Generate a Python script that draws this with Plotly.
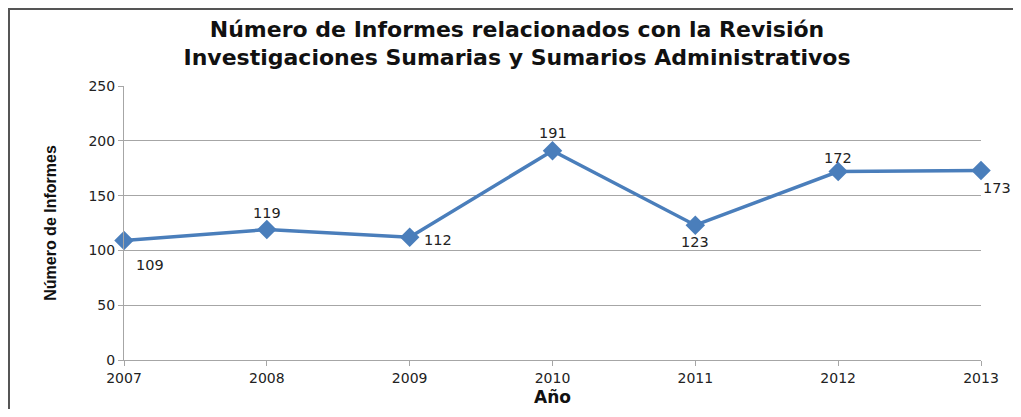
import plotly.graph_objects as go

# data
years = ["2007", "2008", "2009", "2010", "2011", "2012", "2013"]
informes = [109, 119, 112, 191, 123, 172, 173]
y_ticks = [0, 50, 100, 150, 200, 250]

# pixel offsets of each value label from its point (style, not data)
label_shift = [(26, -24), (0, 17), (28, -3), (0, 18), (0, -17), (0, 13), (16, -18)]

LINE_BLUE = "#4a7ebb"
GRID = "#a6a6a6"
FONT = "DejaVu Sans, Liberation Sans, Arial"

fig = go.Figure(
    go.Scatter(
        x=years, y=informes,
        mode="lines+markers",
        line=dict(color=LINE_BLUE, width=3.5),
        marker=dict(symbol="diamond", size=15, color=LINE_BLUE),
        cliponaxis=False,
        hoverinfo="skip",
    )
)

# value labels; numeric-looking category names are addressed by their index
for i, (val, (dx, dy)) in enumerate(zip(informes, label_shift)):
    fig.add_annotation(
        x=i, y=val, text=str(val), showarrow=False,
        xshift=dx, yshift=dy,
        font=dict(family=FONT, size=14.5, color="#222"),
    )

# the page body adds 8px margins; the figure is sized so the plot area lands
# where the reference has it
fig.update_layout(
    width=1013, height=401,
    margin=dict(l=116, r=40, t=78, b=49),
    paper_bgcolor="white", plot_bgcolor="white",
    showlegend=False,
    title=dict(
        text="<b>Número de Informes relacionados con la Revisión<br>"
             "Investigaciones Sumarias y Sumarios Administrativos</b>",
        x=0.5025, xanchor="center", y=0.928, yanchor="top",
        font=dict(family=FONT, size=22, color="#111"),
    ),
    font=dict(family=FONT, color="#333"),
)

fig.update_xaxes(
    type="category", range=[0, 6], automargin=False,
    showgrid=False, showline=True, linecolor=GRID, linewidth=1,
    ticks="outside", ticklen=5, tickcolor=GRID,
    tickfont=dict(size=14, color="#222"),
    title=dict(text="<b>Año</b>", font=dict(size=17, color="#111"), standoff=6),
    zeroline=False,
)
fig.update_yaxes(
    range=[0, 250], tickvals=y_ticks, automargin=False,
    showgrid=True, gridcolor=GRID, gridwidth=1,
    showline=True, linecolor=GRID, linewidth=1,
    ticks="outside", ticklen=5, tickcolor=GRID,
    tickfont=dict(size=14, color="#222"),
    title=dict(text="<b>Número de Informes</b>",
               font=dict(family="Liberation Sans, Arial", size=16, color="#111"),
               standoff=27),
    zeroline=False,
)

# outer frame of the chart object (kept inside the figure's own area)
fig.add_shape(type="rect", xref="paper", yref="paper",
              x0=-0.1342, x1=1.042, y0=-0.4, y1=1.281,
              line=dict(color="#555", width=2), fillcolor="rgba(0,0,0,0)")

fig.write_html("out.html")
